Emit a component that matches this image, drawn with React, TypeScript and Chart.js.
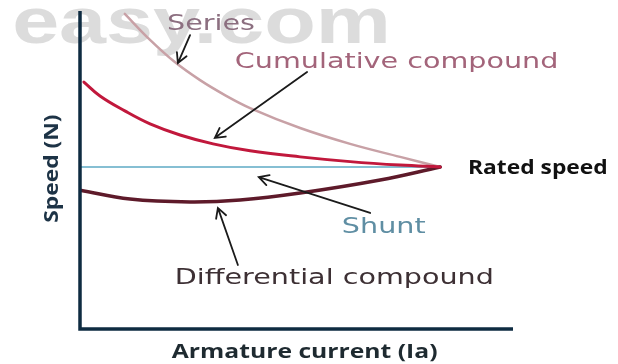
import { useEffect, useRef } from 'react';
import { Chart, registerables } from 'chart.js';

Chart.register(...registerables);

// Armature current (x) vs speed (y), normalised 0–100 on both axes.
const seriesX = [10.3, 16.1, 21.8, 27.6, 33.3, 39.1, 50.6, 62.1, 73.6, 82.8];
const seriesY = [99.4, 91.2, 84.2, 78.5, 73.8, 69.7, 63.4, 58.4, 54.3, 51.1];

const cumulativeX = [0.9, 4.6, 10.3, 16.1, 23.0, 30.6, 39.1, 50.6, 62.1, 73.6, 82.8];
const cumulativeY = [77.9, 73.5, 68.8, 64.7, 61.2, 58.4, 56.2, 54.3, 52.8, 51.7, 51.1];

const differentialX = [0, 11.5, 25.3, 36.8, 50.6, 69.0, 82.8];
const differentialY = [43.8, 41.0, 40.1, 40.7, 42.9, 47.0, 51.1];

const shuntX = [0, 82.8];
const shuntY = [51.1, 51.1];

const curveNames = ['Series', 'Cumulative compound', 'Shunt', 'Differential compound'];
const ratedLabel = 'Rated speed';
const xTitle = 'Armature current (Ia)';
const yTitle = 'Speed (N)';
const watermark = 'easy.com';

// Callouts in data units: label anchor and arrow tail -> head.
const labelAt = {
  series: { x: 20.0, y: 94.3 },
  cumulative: { x: 35.6, y: 82.3 },
  shunt: { x: 60.2, y: 30.3 },
  differential: { x: 21.8, y: 14.2 },
  rated: { x: 89.2, y: 48.9 },
};
const arrows = [
  { from: { x: 25.3, y: 92.7 }, to: { x: 22.5, y: 83.9 } },
  { from: { x: 52.2, y: 81.1 }, to: { x: 31.0, y: 60.3 } },
  { from: { x: 66.7, y: 36.6 }, to: { x: 41.1, y: 47.9 } },
  { from: { x: 36.3, y: 20.2 }, to: { x: 31.7, y: 38.2 } },
];

const toPoints = (xs: number[], ys: number[]) => xs.map((x, i) => ({ x, y: ys[i] }));

const LABEL_FONT = '22px "DejaVu Sans"';
const BOLD_FONT = 'bold 19px "Open Sans"';

function wideText(
  ctx: CanvasRenderingContext2D,
  text: string,
  x: number,
  y: number,
  font: string,
  color: string,
  stretch = 1.3,
  align: CanvasTextAlign = 'left',
  rotate = 0,
) {
  ctx.save();
  ctx.translate(x, y);
  if (rotate) ctx.rotate(rotate);
  ctx.scale(stretch, 1);
  ctx.font = font;
  ctx.fillStyle = color;
  ctx.textAlign = align;
  ctx.textBaseline = 'alphabetic';
  ctx.fillText(text, 0, 0);
  ctx.restore();
}

const overlay = {
  id: 'overlay',
  beforeDatasetsDraw(chart: any) {
    const { ctx } = chart;
    const xs = chart.scales.x;
    const ys = chart.scales.y;
    // faint site mark behind the curves
    wideText(ctx, watermark, xs.getPixelForValue(-15.6), ys.getPixelForValue(90.3),
      'bold 64px "Liberation Sans"', 'rgba(208,208,208,0.75)', 1.32);
  },
  afterDatasetsDraw(chart: any) {
    const { ctx, chartArea } = chart;
    const xs = chart.scales.x;
    const ys = chart.scales.y;
    const px = (v: number) => xs.getPixelForValue(v);
    const py = (v: number) => ys.getPixelForValue(v);

    // axes
    ctx.save();
    ctx.strokeStyle = '#0e2b41';
    ctx.lineWidth = 3.5;
    ctx.lineCap = 'butt';
    ctx.beginPath();
    ctx.moveTo(px(0), chartArea.top - 1);
    ctx.lineTo(px(0), py(0) + 1.75);
    ctx.moveTo(px(0) - 1.75, py(0));
    ctx.lineTo(chartArea.right - 2, py(0));
    ctx.stroke();
    ctx.restore();

    // callout arrows
    ctx.save();
    ctx.strokeStyle = '#1b1b1b';
    ctx.lineWidth = 1.8;
    ctx.lineCap = 'round';
    arrows.forEach(({ from, to }) => {
      const x1 = px(from.x), y1 = py(from.y), x2 = px(to.x), y2 = py(to.y);
      const a = Math.atan2(y2 - y1, x2 - x1);
      const h = 11;
      ctx.beginPath();
      ctx.moveTo(x1, y1);
      ctx.lineTo(x2, y2);
      ctx.moveTo(x2 - h * Math.cos(a - 0.5), y2 - h * Math.sin(a - 0.5));
      ctx.lineTo(x2, y2);
      ctx.lineTo(x2 - h * Math.cos(a + 0.5), y2 - h * Math.sin(a + 0.5));
      ctx.stroke();
    });
    ctx.restore();

    // curve labels
    wideText(ctx, curveNames[0], px(labelAt.series.x), py(labelAt.series.y), LABEL_FONT, '#8c6f80');
    wideText(ctx, curveNames[1], px(labelAt.cumulative.x), py(labelAt.cumulative.y), LABEL_FONT, '#a3647a');
    wideText(ctx, curveNames[2], px(labelAt.shunt.x), py(labelAt.shunt.y), LABEL_FONT, '#5f8ea3');
    wideText(ctx, curveNames[3], px(labelAt.differential.x), py(labelAt.differential.y), LABEL_FONT, '#3d3034');
    wideText(ctx, ratedLabel, px(labelAt.rated.x), py(labelAt.rated.y), BOLD_FONT, '#111111', 1.2);

    // axis titles
    wideText(ctx, xTitle, px(21.1), py(-9.1), BOLD_FONT, '#1e2a30', 1.3);
    wideText(ctx, yTitle, px(-5.1), py(50.6), BOLD_FONT, '#1d3346', 1.2, 'center', -Math.PI / 2);
  },
};

export default function App() {
  const canvasRef = useRef<HTMLCanvasElement | null>(null);

  useEffect(() => {
    const canvas = canvasRef.current;
    if (!canvas) return;
    const line = (data: { x: number; y: number }[], color: string, width: number) => ({
      data,
      borderColor: color,
      borderWidth: width,
      pointRadius: 0,
      showLine: true,
      fill: false,
      tension: 0.4,
      borderCapStyle: 'round' as const,
    });
    const chart = new Chart(canvas, {
      type: 'scatter',
      data: {
        datasets: [
          { label: curveNames[1], ...line(toPoints(cumulativeX, cumulativeY), '#c1183c', 3) },
          { label: curveNames[3], ...line(toPoints(differentialX, differentialY), '#5e1a2a', 3.5) },
          { label: curveNames[2], ...line(toPoints(shuntX, shuntY), '#86bfd3', 2) },
          { label: curveNames[0], ...line(toPoints(seriesX, seriesY), '#c8a1a6', 2.5) },
        ],
      },
      options: {
        responsive: false,
        animation: false,
        layout: { padding: { left: 80, right: 103, top: 12, bottom: 35 } },
        plugins: { legend: { display: false }, tooltip: { enabled: false } },
        scales: {
          x: { type: 'linear', min: 0, max: 100, display: false },
          y: { type: 'linear', min: 0, max: 100, display: false },
        },
      },
      plugins: [overlay],
    });
    return () => chart.destroy();
  }, []);

  return (
    <div style={{ position: 'absolute', left: 0, top: 0, width: 618, height: 364, background: '#ffffff' }}>
      <canvas ref={canvasRef} width={618} height={364} style={{ display: 'block' }} />
    </div>
  );
}
